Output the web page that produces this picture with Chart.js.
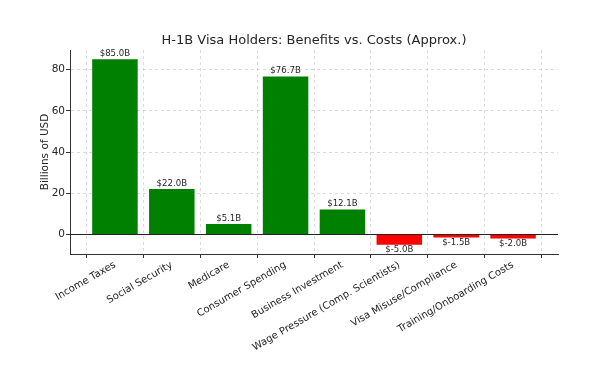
<!DOCTYPE html>
<html>
<head>
<meta charset="utf-8">
<script src="https://cdn.jsdelivr.net/npm/chart.js@4"></script>
<style>
  html, body { margin:0; padding:0; background:#fff; }
  #wrap { width:597px; height:365px; }
</style>
</head>
<body>
<div id="wrap"><canvas id="chart1" width="597" height="365"></canvas></div>
<script>
// ── DATA ──────────────────────────────────────────────────
const TITLE = 'H-1B Visa Holders: Benefits vs. Costs (Approx.)';
const CATEGORIES = [
  'Income Taxes', 'Social Security', 'Medicare', 'Consumer Spending',
  'Business Investment', 'Wage Pressure (Comp. Scientists)',
  'Visa Misuse/Compliance', 'Training/Onboarding Costs',
];
const VALUES  = [85.0, 22.0, 5.1, 76.7, 12.1, -5.0, -1.5, -2.0];
const Y_TICKS = [0, 20, 40, 60, 80];

const FONT = "'DejaVu Sans', sans-serif";
const TXT  = '#262626';
const GRID = 'rgba(190,190,190,0.55)';

// title over the plot area, bar value labels, zero line
const extras = {
  id: 'extras',
  afterDatasetsDraw(chart) {
    const { ctx } = chart;
    ctx.save();
    ctx.font = `8.6px ${FONT}`;
    ctx.fillStyle = TXT;
    ctx.textAlign = 'center';
    chart.getDatasetMeta(0).data.forEach((bar, i) => {
      const v = VALUES[i];
      const txt = `$${v.toFixed(1)}B`;
      if (v >= 0) { ctx.textBaseline = 'bottom'; ctx.fillText(txt, bar.x, bar.y - 1); }
      else        { ctx.textBaseline = 'top';    ctx.fillText(txt, bar.x, bar.y + 1); }
    });
    ctx.restore();
  },
  afterDraw(chart) {
    const { ctx, chartArea, scales:{ y } } = chart;
    const py = Math.round(y.getPixelForValue(0)) + 0.5;
    ctx.save();
    ctx.strokeStyle = '#222';
    ctx.lineWidth = 1;
    ctx.beginPath();
    ctx.moveTo(chartArea.left, py);
    ctx.lineTo(chartArea.right, py);
    ctx.stroke();

    ctx.font = `13px ${FONT}`;
    ctx.fillStyle = TXT;
    ctx.textAlign = 'center';
    ctx.textBaseline = 'alphabetic';
    ctx.fillText(TITLE, (chartArea.left + chartArea.right) / 2, chartArea.top - 6);
    ctx.restore();
  }
};

new Chart(document.getElementById('chart1').getContext('2d'), {
  type: 'bar',
  data: {
    datasets: [{
      data: VALUES.map((v, i) => ({ x: i, y: v })),
      backgroundColor: VALUES.map(v => v >= 0 ? '#008000' : '#ff0000'),
      borderWidth: 0,
      categoryPercentage: 1.0,
      barPercentage: 0.8,
    }]
  },
  options: {
    responsive: false,
    animation: false,
    layout: { padding: { left: 39, right: 39, top: 50, bottom: 0 } },
    plugins: {
      legend: { display: false },
      tooltip: { enabled: false },
      title: { display: false },
    },
    scales: {
      x: {
        type: 'linear',
        offset: false,
        min: -0.79, max: 7.79,
        z: 1,
        afterBuildTicks: s => { s.ticks = CATEGORIES.map((_, i) => ({ value: i })); },
        afterFit: s => { s.height = 111; },
        ticks: {
          color: TXT,
          font: { family: FONT, size: 10 },
          autoSkip: false,
          maxRotation: 30, minRotation: 30,
          padding: 1,
          callback: v => CATEGORIES[v],
        },
        grid: { color: GRID, tickColor: '#333', tickLength: 4, tickBorderDash: [] },
        border: { display: true, color: '#333', width: 1, dash: [3, 3] },
      },
      y: {
        min: -9.5, max: 89.5,
        z: 1,
        afterBuildTicks: s => { s.ticks = Y_TICKS.map(v => ({ value: v })); },
        afterFit: s => { s.width = 31; },
        title: {
          display: true, text: 'Billions of USD', color: TXT,
          font: { family: FONT, size: 10.5 }, padding: { top: 0, bottom: 0 },
        },
        ticks: { color: TXT, font: { family: FONT, size: 10.5 }, padding: 1 },
        grid: { color: GRID, tickColor: '#333', tickLength: 4, tickBorderDash: [] },
        border: { display: true, color: '#333', width: 1, dash: [3, 3] },
      }
    }
  },
  plugins: [extras],
});
</script>
</body>
</html>
